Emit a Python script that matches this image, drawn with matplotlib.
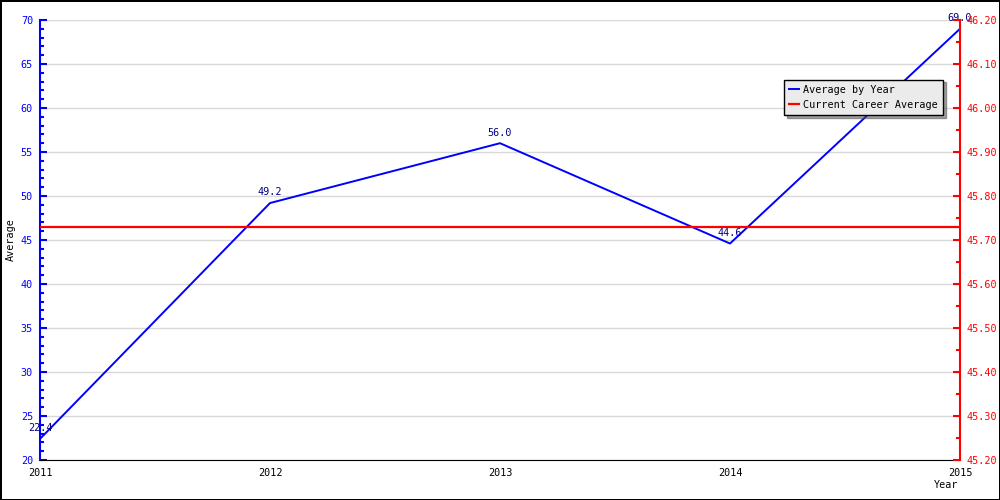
import matplotlib
matplotlib.use("Agg")
import matplotlib.pyplot as plt
from matplotlib.ticker import MultipleLocator, FormatStrFormatter

years = [2011, 2012, 2013, 2014, 2015]
averages = [22.4, 49.2, 56.0, 44.6, 69.0]
career_average = 45.73
year_ticks = ["2011", "2012", "2013", "2014", "2015"]

plt.rcParams['font.family'] = ['DejaVu Sans Mono']
fs = 7.3

fig = plt.figure(figsize=(10, 5), dpi=100)
fig.patch.set_edgecolor('black')
fig.patch.set_linewidth(2)
ax = fig.add_axes([0.04, 0.08, 0.92, 0.88])
ax2 = ax.twinx()

ax.plot(years, averages, color='#0000ff', lw=1.4, label='Average by Year', zorder=3)
for x, y in zip(years, averages):
    ax.annotate(f"{y:.1f}", (x, y), xytext=(0, 4), textcoords='offset points',
                ha='center', va='bottom', fontsize=fs, color='#000080', zorder=4)

ax2.axhline(career_average, color='#ff0000', lw=1.6, label='Current Career Average')

ax.set_xlim(2011, 2015)
ax.set_ylim(20, 70)
ax2.set_ylim(45.2, 46.2)
ax.set_xticks(years)
ax.set_xticklabels(year_ticks)
ax.yaxis.set_major_locator(MultipleLocator(5))
ax.yaxis.set_minor_locator(MultipleLocator(1))
ax2.yaxis.set_major_locator(MultipleLocator(0.1))
ax2.yaxis.set_minor_locator(MultipleLocator(0.05))
ax2.yaxis.set_major_formatter(FormatStrFormatter('%.2f'))

ax.grid(axis='y', color='#d8d8d8', lw=1)
ax.set_axisbelow(True)

for a in (ax, ax2):
    a.spines['top'].set_visible(False)
ax.spines['right'].set_visible(False)
ax2.spines['left'].set_visible(False)
ax2.spines['bottom'].set_visible(False)
ax.spines['left'].set_color('#0000ff')
ax.spines['left'].set_linewidth(1.5)
ax2.spines['right'].set_color('#ff0000')
ax2.spines['right'].set_linewidth(1.5)
ax.spines['bottom'].set_color('black')

ax.tick_params(axis='y', which='major', direction='in', length=5, color='#0000ff',
               labelcolor='#0000ff', labelsize=fs, width=1.5, pad=5)
ax.tick_params(axis='y', which='minor', direction='in', length=3, color='#0000ff', width=1.5)
ax2.tick_params(axis='y', which='major', direction='in', length=5, color='#ff0000',
                labelcolor='#ff0000', labelsize=fs, width=1.5, pad=5)
ax2.tick_params(axis='y', which='minor', direction='in', length=3, color='#ff0000', width=1.5)
ax.tick_params(axis='x', length=0, labelsize=fs, pad=6)

ax.set_ylabel('Average', fontsize=fs)
ax.yaxis.set_label_coords(-0.026, 0.5)
fig.text(0.946, 0.03, 'Year', fontsize=fs, ha='center', va='center')

h1, l1 = ax.get_legend_handles_labels()
h2, l2 = ax2.get_legend_handles_labels()
leg = ax2.legend(h1 + h2, l1 + l2, loc='upper right', bbox_to_anchor=(0.987, 0.876),
                 fontsize=fs, frameon=True, fancybox=False, shadow=True,
                 handlelength=1.0, handletextpad=0.4, borderpad=0.5, labelspacing=0.5)
leg.get_frame().set_facecolor('#ebebeb')
leg.get_frame().set_edgecolor('black')
leg.get_frame().set_alpha(1)

fig.savefig('out.png', dpi=100, edgecolor=fig.get_edgecolor())
